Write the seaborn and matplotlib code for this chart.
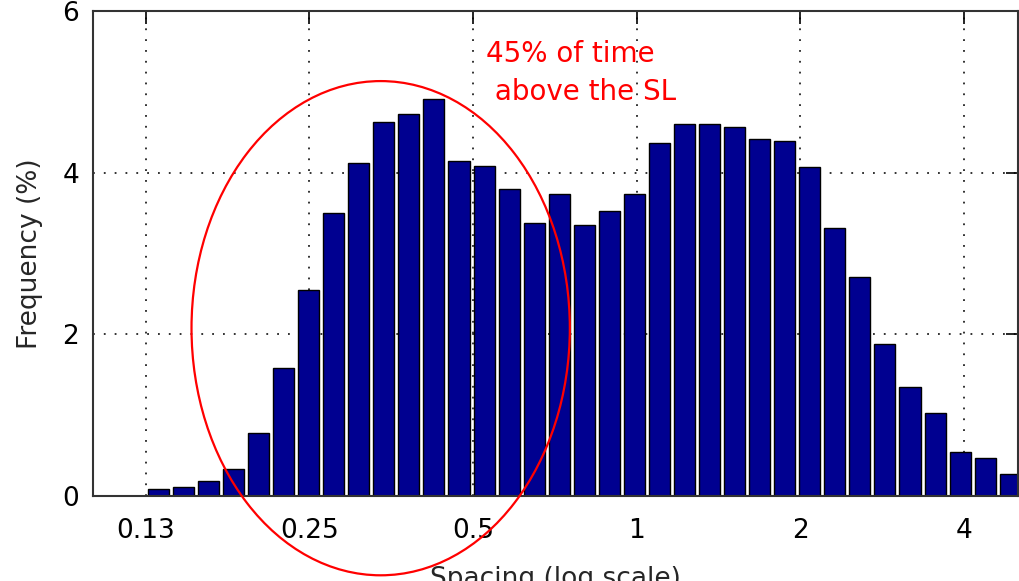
import numpy as np
import pandas as pd
import matplotlib
matplotlib.use("Agg")
import matplotlib.pyplot as plt
from matplotlib.patches import Ellipse
import seaborn as sns

# ---- data ----
bin_edges = np.geomspace(0.125, 5.13, 36)          # log-spaced spacing bins
frequency = [0.09, 0.11, 0.18, 0.34, 0.78, 1.58, 2.55, 3.50, 4.12, 4.63,
             4.72, 4.91, 4.15, 4.08, 3.80, 3.38, 3.73, 3.35, 3.52, 3.73,
             4.37, 4.60, 4.60, 4.56, 4.42, 4.39, 4.07, 3.31, 2.71, 1.88,
             1.35, 1.03, 0.54, 0.47, 0.27]
x_ticks = [0.125, 0.25, 0.5, 1, 2, 4]
x_tick_labels = ["0.13", "0.25", "0.5", "1", "2", "4"]
y_ticks = [0, 2, 4, 6]
annotation = ["45% of time", " above the SL"]

centers = np.sqrt(bin_edges[:-1] * bin_edges[1:])
df = pd.DataFrame({"spacing": centers, "freq": frequency})

sns.set_style("white")
plt.rcParams["font.family"] = ["DejaVu Sans"]

fig = plt.figure(figsize=(10.19, 5.81), dpi=100)
ax = fig.add_axes([93 / 1019, 1 - 496 / 581, 925 / 1019, 485 / 581])

sns.histplot(data=df, x="spacing", weights="freq",
             bins=list(np.log10(bin_edges)),
             log_scale=True, shrink=0.84, color="#000090", alpha=1,
             edgecolor="black", linewidth=1.0, ax=ax)

ax.set_xlim(0.1, 5.03)
ax.set_ylim(0, 6)
ax.set_xticks(x_ticks)
ax.set_xticklabels(x_tick_labels)
ax.xaxis.set_minor_locator(matplotlib.ticker.NullLocator())
ax.set_yticks(y_ticks)
ax.grid(True, which="major", linestyle=(0, (1, 5)), color="#222222", linewidth=1.3)
ax.set_axisbelow(True)
ax.tick_params(axis="both", which="major", direction="in", length=9, width=1.2,
               top=True, right=True, labelsize=19, colors="black")
ax.tick_params(axis="x", pad=16)
ax.tick_params(axis="y", pad=10)
for s in ax.spines.values():
    s.set_visible(True)
    s.set_color("#333333")
    s.set_linewidth(1.5)

ax.set_xlabel("Spacing (log scale)", fontsize=19, labelpad=16)
ax.set_ylabel("Frequency (%)", fontsize=19, labelpad=14)

ell = Ellipse((0.311, 0.346), 0.409, 1.019, transform=ax.transAxes,
              fill=False, edgecolor="red", linewidth=1.6, clip_on=False, zorder=5)
ax.add_patch(ell)

ax.text(0.425, 0.895, annotation[0], transform=ax.transAxes, color="red",
        fontsize=20, ha="left", va="baseline", zorder=6)
ax.text(0.425, 0.817, annotation[1], transform=ax.transAxes, color="red",
        fontsize=20, ha="left", va="baseline", zorder=6)

fig.savefig("out.png", dpi=100)
